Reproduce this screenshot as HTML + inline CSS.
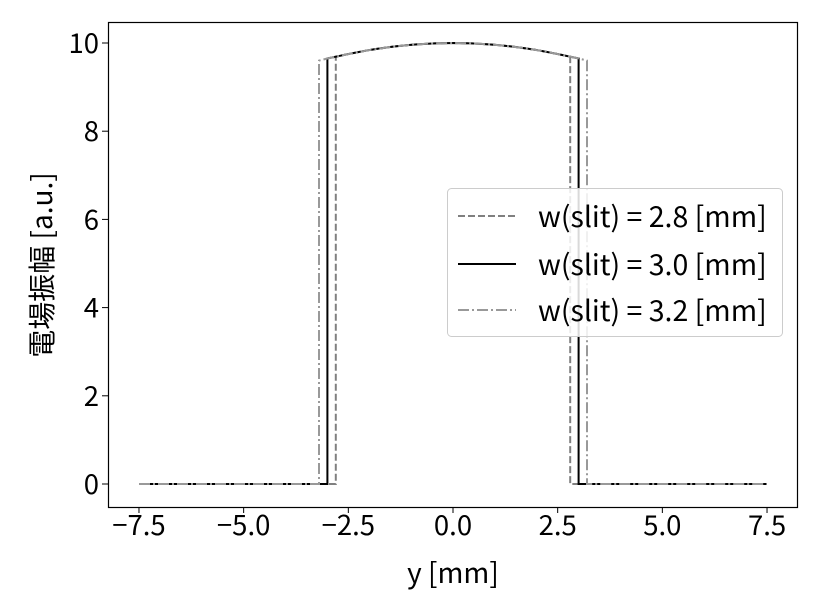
<!DOCTYPE html>
<html><head><meta charset="utf-8"><style>
body{margin:0;background:#fff;}
svg{display:block;font-family:"Noto Sans CJK JP","Liberation Sans",sans-serif;}
</style></head><body>
<svg id="chart" width="826" height="614" viewBox="0 0 826 614">
<rect x="0" y="0" width="826" height="614" fill="#fff"/>
<g id="plot"></g>
<rect x="108.5" y="22.5" width="689" height="485" fill="none" stroke="#000" stroke-width="1.2"/>
<g id="xticks"></g><g id="yticks"></g>
<text x="453" y="583" font-size="28" text-anchor="middle">y [mm]</text>
<text transform="translate(52,265) rotate(-90)" font-size="28" text-anchor="middle">電場振幅 [a.u.]</text>
<g>
<rect x="447.5" y="188.5" width="335" height="148" rx="4" fill="#fff" fill-opacity="0.85" stroke="#ccc"/>
<line x1="458" y1="216" x2="516" y2="216" stroke="#808080" stroke-width="2" stroke-dasharray="7,3"/>
<text x="538" y="227" font-size="28.5">w(slit) = 2.8 [mm]</text>
<line x1="458" y1="264" x2="516" y2="264" stroke="#000" stroke-width="2"/>
<text x="538" y="275" font-size="28.5">w(slit) = 3.0 [mm]</text>
<line x1="458" y1="310" x2="516" y2="310" stroke="#999" stroke-width="2" stroke-dasharray="11,3,2,3"/>
<text x="538" y="321" font-size="28.5">w(slit) = 3.2 [mm]</text>
</g>
</svg>
<script>
const xTicks=[-7.5,-5.0,-2.5,0.0,2.5,5.0,7.5];
const xTickLabels=["−7.5","−5.0","−2.5","0.0","2.5","5.0","7.5"];
const yTicks=[0,2,4,6,8,10];
const yTickLabels=["0","2","4","6","8","10"];
const profileX=[0,0.5,1.0,1.5,2.0,2.5,2.8,3.0,3.2];
const profileAmp=[10,9.99,9.96,9.91,9.84,9.75,9.69,9.65,9.6];
const slitWidths=[2.8,3.0,3.2];
const seriesColors=["#808080","#000000","#999999"];
const seriesDash=["7,3","","11,3,2,3"];
const xRange=[-7.5,7.5];
const NS="http://www.w3.org/2000/svg";
const sx=v=>453+v*41.87;
const sy=v=>484-v*44.1;
function amp(x){x=Math.abs(x);for(let i=1;i<profileX.length;i++){if(x<=profileX[i]){const t=(x-profileX[i-1])/(profileX[i]-profileX[i-1]);return profileAmp[i-1]+t*(profileAmp[i]-profileAmp[i-1]);}}return profileAmp[profileAmp.length-1];}
const plot=document.getElementById('plot');
slitWidths.forEach((w,k)=>{
 const pts=[[xRange[0],0],[-w,0]];
 for(let i=0;i<=40;i++){const x=-w+2*w*i/40;pts.push([x,amp(x)]);}
 pts.push([w,0],[xRange[1],0]);
 const p=document.createElementNS(NS,'polyline');
 p.setAttribute('points',pts.map(q=>sx(q[0]).toFixed(1)+','+sy(q[1]).toFixed(1)).join(' '));
 p.setAttribute('fill','none');p.setAttribute('stroke',seriesColors[k]);p.setAttribute('stroke-width','2');
 if(seriesDash[k])p.setAttribute('stroke-dasharray',seriesDash[k]);
 
 
 plot.appendChild(p);
});
const xg=document.getElementById('xticks');
xTicks.forEach((v,i)=>{
 const l=document.createElementNS(NS,'line');l.setAttribute('x1',sx(v));l.setAttribute('x2',sx(v));l.setAttribute('y1',507);l.setAttribute('y2',513);l.setAttribute('stroke','#000');
 
 
 xg.appendChild(l);
 const t=document.createElementNS(NS,'text');t.setAttribute('x',sx(v));t.setAttribute('y',535);t.setAttribute('font-size','27.5');t.setAttribute('text-anchor','middle');t.textContent=xTickLabels[i];
 
 
 xg.appendChild(t);
});
const yg=document.getElementById('yticks');
yTicks.forEach((v,i)=>{
 const l=document.createElementNS(NS,'line');l.setAttribute('x1',102);l.setAttribute('x2',108);l.setAttribute('y1',sy(v));l.setAttribute('y2',sy(v));l.setAttribute('stroke','#000');
 
 
 yg.appendChild(l);
 const t=document.createElementNS(NS,'text');t.setAttribute('x',99);t.setAttribute('y',sy(v)+10);t.setAttribute('font-size','27.5');t.setAttribute('text-anchor','end');t.textContent=yTickLabels[i];
 
 
 yg.appendChild(t);
});
</script>
</body></html>
